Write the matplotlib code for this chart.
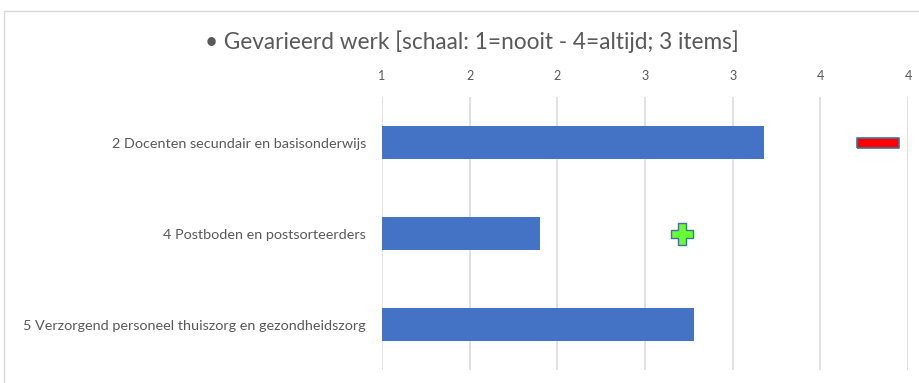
"""Horizontal bar chart: Gevarieerd werk per beroepsgroep."""
import matplotlib.pyplot as plt
from matplotlib.patches import Rectangle

categories = [
    "2 Docenten secundair en basisonderwijs",
    "4 Postboden en postsorteerders",
    "5 Verzorgend personeel thuiszorg en gezondheidszorg",
]
bar_values = [3.18, 1.90, 2.78]
red_value = 3.83  # red marker on the first row
green_value = 2.71  # green marker on the second row
x_ticks = [1, 1.5, 2, 2.5, 3, 3.5, 4]
x_tick_labels = ["1", "2", "2", "3", "3", "4", "4"]
title = "\u2022 Gevarieerd werk [schaal: 1=nooit - 4=altijd; 3 items]"

plt.rcParams["font.family"] = ["Lato", "DejaVu Sans"]
text_color = "#595959"
grid_color = "#d9d9d9"

fig = plt.figure(figsize=(9.2, 3.83), dpi=100)
ax = fig.add_axes([382 / 920, 1 - 370 / 383, 526 / 920, 273 / 383])

y = list(range(len(categories)))
ax.barh(y, [v - 1 for v in bar_values], left=1, height=0.36,
        color="#4472C4", zorder=3)

# markers
rect = [(-2.3, -0.5), (2.3, -0.5), (2.3, 0.5), (-2.3, 0.5), (-2.3, -0.5)]
ax.plot([red_value], [0], marker=rect, ms=30, mfc="#FF0000",
        mec="#41719C", mew=1.2, ls="none", zorder=4)
ax.plot([green_value], [1], marker="P", ms=16, mfc="#66FF33",
        mec="#41719C", mew=1.0, ls="none", zorder=4)

ax.set_xlim(1, 4)
ax.set_ylim(2.5, -0.5)
ax.set_xticks(x_ticks)
ax.set_xticklabels(x_tick_labels)
ax.xaxis.tick_top()
ax.set_yticks(y)
ax.set_yticklabels(categories)
ax.tick_params(axis="x", length=0, pad=11, labelsize=9, labelcolor=text_color)
ax.tick_params(axis="y", length=0, pad=11.5, labelsize=10.4, labelcolor=text_color)
ax.grid(axis="x", color=grid_color, lw=1.1, zorder=0)
for s in ax.spines.values():
    s.set_visible(False)

fig.text(472 / 920, 1 - 42 / 383, title, ha="center", va="center",
         fontsize=16.3, color=text_color)

# chart area border
fig.patches.append(Rectangle((4 / 920, -0.05), 1.1, 1 - 11 / 383 + 0.05,
                             transform=fig.transFigure, fill=False,
                             ec=grid_color, lw=1))

plt.savefig("out.png", dpi=100)
